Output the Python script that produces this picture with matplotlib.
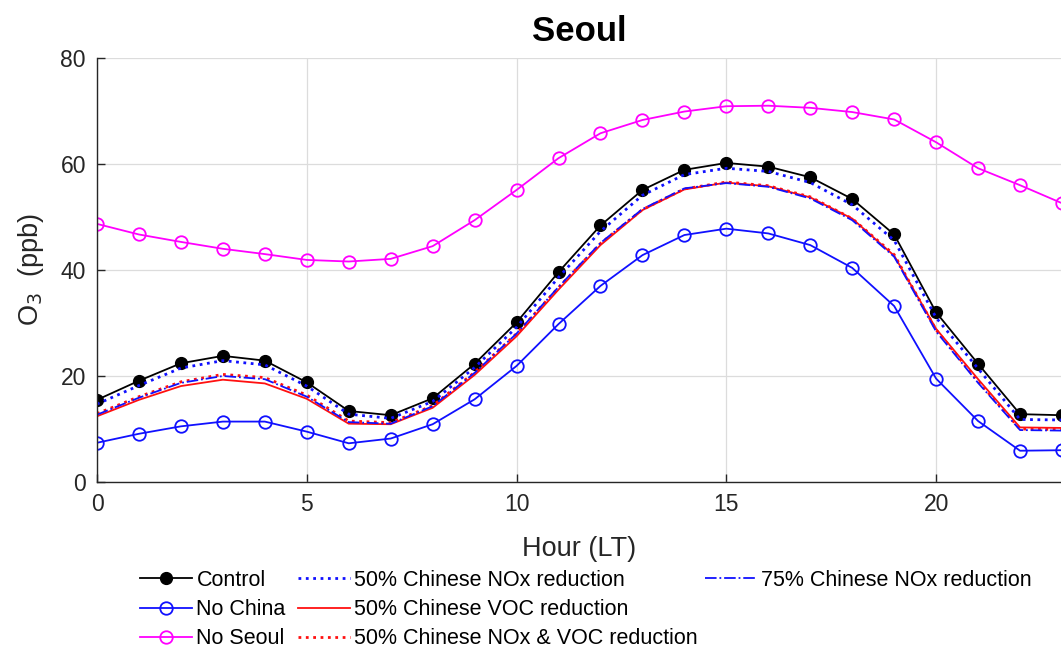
import numpy as np
import matplotlib
matplotlib.use("Agg")
import matplotlib.pyplot as plt

plt.rcParams['font.family'] = ['Liberation Sans', 'DejaVu Sans']

hours = np.arange(24)

control = [15.5, 19.1, 22.4, 23.8, 22.9, 18.8, 13.4, 12.6, 15.8, 22.3, 30.1, 39.6,
           48.4, 55.1, 58.9, 60.2, 59.5, 57.5, 53.4, 46.7, 32.0, 22.3, 12.8, 12.6]
no_china = [7.4, 9.1, 10.5, 11.4, 11.4, 9.5, 7.3, 8.2, 10.9, 15.6, 21.9, 29.8,
            37.0, 42.8, 46.6, 47.8, 46.9, 44.7, 40.4, 33.2, 19.5, 11.5, 5.9, 6.0]
no_seoul = [48.7, 46.7, 45.3, 44.0, 43.0, 41.9, 41.6, 42.1, 44.5, 49.4, 55.1, 61.1,
            65.8, 68.3, 69.9, 70.9, 71.0, 70.6, 69.8, 68.4, 64.1, 59.2, 56.0, 52.6]
nox50 = [14.7, 18.2, 21.5, 22.9, 22.1, 18.1, 12.8, 12.0, 15.2, 21.6, 29.2, 38.6,
         47.3, 54.1, 58.0, 59.2, 58.6, 56.5, 52.3, 45.6, 31.0, 21.4, 11.8, 11.7]
voc50 = [12.4, 15.5, 18.1, 19.3, 18.6, 15.7, 11.0, 10.9, 14.0, 20.2, 27.5, 36.3,
         44.7, 51.3, 55.2, 56.5, 55.8, 53.7, 49.7, 42.7, 28.9, 19.4, 10.3, 10.2]
noxvoc50 = [12.9, 16.1, 18.9, 20.3, 19.7, 16.4, 11.5, 11.2, 14.4, 20.7, 28.0, 36.7,
            45.0, 51.4, 55.3, 56.6, 55.9, 53.8, 49.7, 42.9, 28.7, 19.0, 10.0, 9.9]
nox75 = [12.7, 15.9, 18.7, 20.0, 19.4, 16.1, 11.3, 11.0, 14.3, 20.6, 28.0, 36.8,
         45.1, 51.5, 55.4, 56.4, 55.7, 53.5, 49.4, 42.5, 28.4, 18.7, 9.8, 9.7]

fig = plt.figure(figsize=(10.61, 6.48), dpi=100)
ax = fig.add_axes([97 / 1061, 1 - 482 / 648, 965 / 1061, 424 / 648])

lw = 1.3
ax.plot(hours, control, '-o', color='k', lw=lw, ms=8.5, mfc='k', label='Control')
ax.plot(hours, no_china, '-o', color='#1010ff', lw=lw, ms=9, mfc='none', mew=1.3,
        label='No China')
ax.plot(hours, no_seoul, '-o', color='#ff00ff', lw=lw, ms=9, mfc='none', mew=1.3,
        label='No Seoul')
ax.plot(hours, nox50, ':', color='#1010ff', lw=2.0, label='50% Chinese NOx reduction')
ax.plot(hours, voc50, '-', color='#ff1010', lw=lw, label='50% Chinese VOC reduction')
ax.plot(hours, noxvoc50, ':', color='#ff1010', lw=2.0,
        label='50% Chinese NOx & VOC reduction')
ax.plot(hours, nox75, '-.', color='#1010ff', lw=lw, label='75% Chinese NOx reduction')

ax.set_xlim(0, 23)
ax.set_ylim(0, 80)
ax.set_xticks([0, 5, 10, 15, 20])
ax.set_yticks([0, 20, 40, 60, 80])
ax.grid(True, color='#dcdcdc', lw=0.9)
ax.set_axisbelow(True)
for s in ['top', 'right']:
    ax.spines[s].set_visible(False)
for s in ['left', 'bottom']:
    ax.spines[s].set_color('#262626')
    ax.spines[s].set_linewidth(1.0)
ax.tick_params(direction='in', length=6, width=1.0, color='#262626',
               labelcolor='#262626', labelsize=16.5, pad=8)

ax.set_xlabel('Hour (LT)', fontsize=19.5, color='#262626', labelpad=14)
ax.set_ylabel('O$_3$  (ppb)', fontsize=19.5, color='#262626', labelpad=10)
ax.set_title('Seoul', fontsize=25, fontweight='bold', pad=12)

# legend in three columns (3 + 3 + 1 entries), like the original
handles, labels = ax.get_legend_handles_labels()
groups = [(0, 3, 140), (3, 6, 298), (6, 7, 705)]
for i0, i1, xpix in groups:
    fig.legend(handles[i0:i1], labels[i0:i1], loc='upper left',
               bbox_to_anchor=(xpix / 1061, 1 - 570 / 648), frameon=False,
               fontsize=15.5, handlelength=2.4, handletextpad=0.22,
               labelspacing=0.38, borderpad=0, borderaxespad=0)

fig.savefig('out.png', dpi=100)
